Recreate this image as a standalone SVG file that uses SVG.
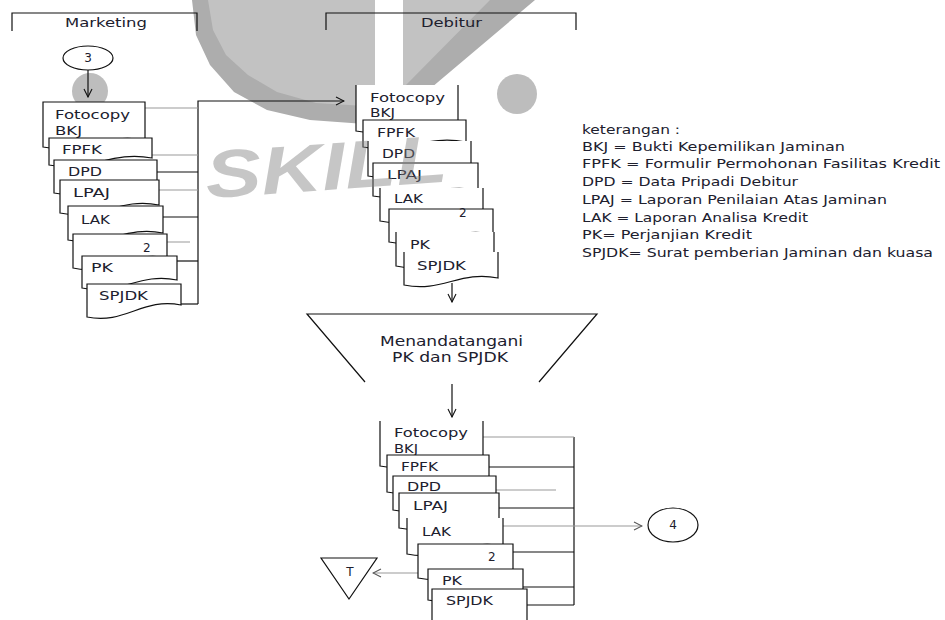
<svg xmlns="http://www.w3.org/2000/svg" width="945" height="620" viewBox="0 0 945 620">
<defs>
<style>
.ln{stroke:#111;stroke-width:1.2;fill:none}
.lg{stroke:#999;stroke-width:1;fill:none}
.doc{fill:#fff;stroke:#111;stroke-width:1.2}
.t{font-family:"DejaVu Sans","Liberation Sans",sans-serif;font-size:12px;fill:#20202e}
.lgd{font-family:"DejaVu Sans","Liberation Sans",sans-serif;font-size:11.5px;fill:#20202e}
.wm{fill:#bdbdbd}
</style>
<marker id="ah" markerWidth="10" markerHeight="10" refX="9" refY="5" orient="auto" markerUnits="userSpaceOnUse">
<path d="M1,1 L9,5 L1,9" fill="none" stroke="#111" stroke-width="1.1"/>
</marker>
<marker id="ahg" markerWidth="10" markerHeight="10" refX="9" refY="5" orient="auto" markerUnits="userSpaceOnUse">
<path d="M1,1 L9,5 L1,9" fill="none" stroke="#555" stroke-width="1.1"/>
</marker>
</defs>
<rect width="945" height="620" fill="#fff"/>

<g id="watermark">
<polygon fill="#adadad" points="192,0 196,35 210,65 234,92 267,110 310,120 365,124 392,123 412,108 425,93 535,0"/>
<polygon fill="#c2c2c2" points="208,0 213,30 226,55 248,75 277,92 316,103 365,106 385,104 397,96 405,86 490,0"/>
<rect x="375" y="0" width="28" height="86" fill="#fff"/>
<circle class="wm" cx="517" cy="94" r="20"/>
<circle class="wm" cx="90" cy="91" r="18"/>
</g>

<g id="lane-marketing">
<path class="ln" d="M12,31 V13 H197 V31"/>
<text class="t" x="65" y="27" textLength="82" lengthAdjust="spacingAndGlyphs">Marketing</text>
</g>
<g id="lane-debitur">
<path class="ln" d="M326,30 V13 H576 V30"/>
<text class="t" x="421" y="27" textLength="61" lengthAdjust="spacingAndGlyphs">Debitur</text>
</g>

<g id="connectors">
<line class="ln" x1="88" y1="70" x2="88" y2="97" marker-end="url(#ah)"/>
<path class="ln" d="M198,304 V101 H344" marker-end="url(#ah)"/>
<line class="lg" x1="145" y1="108" x2="198" y2="108"/>
<line class="lg" x1="152" y1="155" x2="198" y2="155"/>
<line class="ln" x1="157" y1="172" x2="198" y2="172"/>
<line class="lg" x1="159" y1="190" x2="198" y2="190"/>
<line class="ln" x1="163" y1="217" x2="198" y2="217"/>
<line class="lg" x1="167" y1="242" x2="190" y2="242"/>
<line class="ln" x1="177" y1="261" x2="198" y2="261"/>
<line class="ln" x1="181" y1="304" x2="198" y2="304"/>
<line class="ln" x1="452" y1="283" x2="452" y2="302" marker-end="url(#ah)"/>
<line class="ln" x1="452" y1="384" x2="452" y2="417" marker-end="url(#ah)"/>
<line class="ln" x1="574" y1="437" x2="574" y2="605"/>
<line class="lg" x1="483" y1="437" x2="574" y2="437"/>
<line class="ln" x1="489" y1="467" x2="574" y2="467"/>
<line class="lg" x1="496" y1="490" x2="556" y2="490"/>
<line class="ln" x1="499" y1="508" x2="574" y2="508"/>
<line class="lg" x1="503" y1="526" x2="642" y2="526" marker-end="url(#ahg)"/>
<line class="ln" x1="513" y1="552" x2="574" y2="552"/>
<line class="ln" x1="523" y1="587" x2="574" y2="587"/>
<line class="ln" x1="527" y1="605" x2="574" y2="605"/>
<line class="lg" x1="418" y1="573" x2="373" y2="573" marker-end="url(#ahg)"/>
</g>

<g id="node-3">
<ellipse class="ln" cx="88" cy="58" rx="25" ry="12"/>
<text class="t" x="88" y="62" text-anchor="middle">3</text>
</g>

<g id="docs-marketing">
<path class="doc" d="M43,102 H145 V140 C104,132 84,155 43,147 Z"/>
<text class="t" x="55" y="119" textLength="75" lengthAdjust="spacingAndGlyphs">Fotocopy</text>
<text class="t" x="55" y="135" textLength="27" lengthAdjust="spacingAndGlyphs">BKJ</text>
<path class="doc" d="M49,138 H152 V158 C111,150 90,173 49,165 Z"/>
<text class="t" x="62" y="154" textLength="40" lengthAdjust="spacingAndGlyphs">FPFK</text>
<path class="doc" d="M54,160 H157 V185 C116,177 95,201 54,193 Z"/>
<text class="t" x="68" y="176" textLength="34" lengthAdjust="spacingAndGlyphs">DPD</text>
<path class="doc" d="M60,180 H159 V205 C119,197 100,221 60,213 Z"/>
<text class="t" x="73" y="197" textLength="37" lengthAdjust="spacingAndGlyphs">LPAJ</text>
<path class="doc" d="M68,206 H163 V233 C125,225 106,248 68,240 Z"/>
<text class="t" x="81" y="224" textLength="29" lengthAdjust="spacingAndGlyphs">LAK</text>
<path class="doc" d="M73,234 H167 V258 C130,250 110,276 73,268 Z"/>
<text class="t" x="143" y="252">2</text>
<path class="doc" d="M82,256 H177 V280 C139,272 120,296 82,288 Z"/>
<text class="t" x="91" y="272" textLength="22" lengthAdjust="spacingAndGlyphs">PK</text>
<path class="doc" d="M87,284 H181 V305 C143,297 125,325 87,317 Z"/>
<text class="t" x="99" y="300" textLength="49" lengthAdjust="spacingAndGlyphs">SPJDK</text>
</g>

<g id="docs-debitur">
<path class="doc" d="M458,85 V124 C417,116 397,139 356,131 V85"/>
<text class="t" x="370" y="102" textLength="75" lengthAdjust="spacingAndGlyphs">Fotocopy</text>
<text class="t" x="370" y="117" textLength="25" lengthAdjust="spacingAndGlyphs">BKJ</text>
<path class="doc" d="M363,120 H466 V142 C425,134 404,155 363,147 Z"/>
<text class="t" x="377" y="137" textLength="38" lengthAdjust="spacingAndGlyphs">FPFK</text>
<path class="doc" d="M471,141 V168 C430,160 409,184 368,176 V141"/>
<text class="t" x="382" y="158" textLength="33" lengthAdjust="spacingAndGlyphs">DPD</text>
<path class="doc" d="M373,163 H478 V190 C436,182 415,204 373,196 Z"/>
<text class="t" x="387" y="179" textLength="35" lengthAdjust="spacingAndGlyphs">LPAJ</text>
<path class="doc" d="M483,188 V212 C442,204 421,229 380,221 V188"/>
<text class="t" x="394" y="203" textLength="29" lengthAdjust="spacingAndGlyphs">LAK</text>
<path class="doc" d="M389,209 H493 V234 C451,226 431,250 389,242 Z"/>
<text class="t" x="459" y="217">2</text>
<path class="doc" d="M494,232 V256 C455,248 435,274 396,266 V232"/>
<text class="t" x="410" y="249" textLength="20" lengthAdjust="spacingAndGlyphs">PK</text>
<path class="doc" d="M498,252 V278 C460,270 442,293 404,285 V252"/>
<text class="t" x="417" y="270" textLength="49" lengthAdjust="spacingAndGlyphs">SPJDK</text>
</g>

<g id="manual-sign">
<path class="ln" d="M365,382 L307,314 H597 L539,382"/>
<text class="t" x="380" y="346" style="font-size:14px" textLength="143" lengthAdjust="spacingAndGlyphs">Menandatangani</text>
<text class="t" x="392" y="362" style="font-size:14px" textLength="116" lengthAdjust="spacingAndGlyphs">PK dan SPJDK</text>
</g>

<g id="docs-result">
<path class="doc" d="M483,421 V458 C442,450 421,474 380,466 V421"/>
<text class="t" x="394" y="437" textLength="74" lengthAdjust="spacingAndGlyphs">Fotocopy</text>
<text class="t" x="394" y="453" textLength="24" lengthAdjust="spacingAndGlyphs">BKJ</text>
<path class="doc" d="M387,455 H489 V484 C448,476 428,500 387,492 Z"/>
<text class="t" x="401" y="471" textLength="37" lengthAdjust="spacingAndGlyphs">FPFK</text>
<path class="doc" d="M393,476 H496 V502 C455,494 434,518 393,510 Z"/>
<text class="t" x="407" y="491" textLength="34" lengthAdjust="spacingAndGlyphs">DPD</text>
<path class="doc" d="M399,493 H499 V522 C459,514 439,536 399,528 Z"/>
<text class="t" x="413" y="510" textLength="35" lengthAdjust="spacingAndGlyphs">LPAJ</text>
<path class="doc" d="M503,518 V546 C465,538 445,562 407,554 V518"/>
<text class="t" x="422" y="536" textLength="29" lengthAdjust="spacingAndGlyphs">LAK</text>
<path class="doc" d="M418,544 H513 V572 C475,564 456,586 418,578 Z"/>
<text class="t" x="488" y="561">2</text>
<path class="doc" d="M428,569 H523 V595 C485,587 466,608 428,600 Z"/>
<text class="t" x="442" y="585" textLength="20" lengthAdjust="spacingAndGlyphs">PK</text>
<path class="doc" d="M432,589 H527 V625 C489,617 470,638 432,630 Z"/>
<text class="t" x="446" y="605" textLength="47" lengthAdjust="spacingAndGlyphs">SPJDK</text>
</g>

<g id="node-4">
<ellipse class="ln" cx="673" cy="525" rx="25" ry="17"/>
<text class="t" x="673" y="529" text-anchor="middle">4</text>
</g>

<g id="node-T">
<path class="ln" d="M321,558 H377 L349,599 Z"/>
<text class="t" x="350" y="576" text-anchor="middle">T</text>
</g>

<g id="watermark-text">
<text x="205" y="190" fill="#808080" fill-opacity="0.45" font-family="Liberation Sans, sans-serif" font-weight="bold" font-style="italic" font-size="67" textLength="242" lengthAdjust="spacingAndGlyphs" transform="rotate(-4 325 165)">SKILL</text>
</g>

<g id="legend">
<text class="lgd" x="582" y="134" textLength="98" lengthAdjust="spacingAndGlyphs">keterangan :</text>
<text class="lgd" x="582" y="151" textLength="263" lengthAdjust="spacingAndGlyphs">BKJ = Bukti Kepemilikan Jaminan</text>
<text class="lgd" x="582" y="168" textLength="358" lengthAdjust="spacingAndGlyphs">FPFK = Formulir Permohonan Fasilitas Kredit</text>
<text class="lgd" x="582" y="186" textLength="216" lengthAdjust="spacingAndGlyphs">DPD = Data Pripadi Debitur</text>
<text class="lgd" x="582" y="204" textLength="305" lengthAdjust="spacingAndGlyphs">LPAJ = Laporan Penilaian Atas Jaminan</text>
<text class="lgd" x="582" y="222" textLength="226" lengthAdjust="spacingAndGlyphs">LAK = Laporan Analisa Kredit</text>
<text class="lgd" x="582" y="239" textLength="170" lengthAdjust="spacingAndGlyphs">PK= Perjanjian Kredit</text>
<text class="lgd" x="582" y="257" textLength="351" lengthAdjust="spacingAndGlyphs">SPJDK= Surat pemberian Jaminan dan kuasa</text>
</g>
</svg>
